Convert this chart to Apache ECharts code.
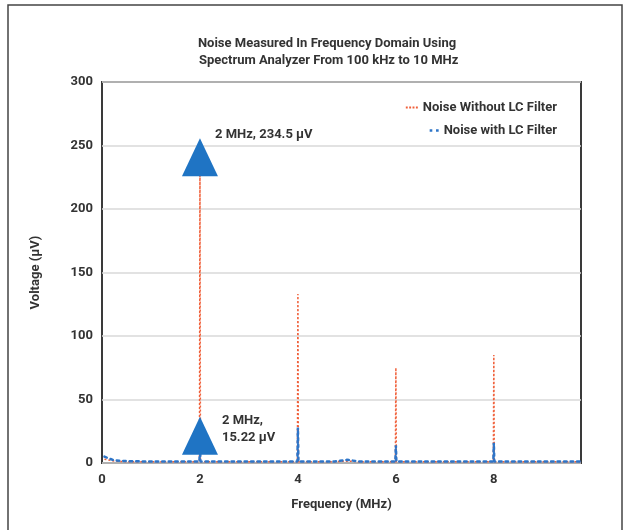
<!DOCTYPE html>
<html>
<head>
<meta charset="utf-8">
<script src="https://cdn.jsdelivr.net/npm/echarts@6/dist/echarts.min.js"></script>
<style>
  html, body { margin: 0; padding: 0; background: #fff; }
  #chart { width: 629px; height: 530px; }
</style>
</head>
<body>
<div id="chart"></div>
<script>
// spectrum samples, [frequency MHz, voltage uV]
var noiseNoFilter = [
    [0.05, 3], [0.25, 1.5], [0.5, 1], [0.75, 1], [1.0, 1], [1.25, 1], [1.5, 1], [1.75, 1],
    [1.99, 1], [2.0, 234.5], [2.01, 1], [2.25, 1], [2.5, 1], [2.75, 1], [3.0, 1], [3.25, 1],
    [3.5, 1], [3.75, 1], [3.99, 1], [4.0, 133], [4.01, 1], [4.25, 1], [4.5, 1], [4.75, 1],
    [5.0, 1.5], [5.25, 1], [5.5, 1], [5.75, 1], [5.99, 1], [6.0, 75], [6.01, 1], [6.25, 1],
    [6.5, 1], [6.75, 1], [7.0, 1], [7.25, 1], [7.5, 1], [7.75, 1], [7.99, 1], [8.0, 85],
    [8.01, 1], [8.25, 1], [8.5, 1], [8.75, 1], [9.0, 1], [9.25, 1], [9.5, 1], [9.78, 1]
];
var noiseLcFilter = [
    [0.05, 5], [0.25, 2], [0.5, 1.5], [0.75, 1.3], [1.0, 1.2], [1.25, 1.2], [1.5, 1.2], [1.75, 1.2],
    [1.99, 1.2], [2.0, 15.22], [2.01, 1.2], [2.25, 1.2], [2.5, 1.2], [2.75, 1.2], [3.0, 1.2], [3.25, 1.2],
    [3.5, 1.2], [3.75, 1.2], [3.99, 1.2], [4.0, 28], [4.01, 1.2], [4.25, 1.2], [4.5, 1.2], [4.75, 1.2],
    [5.0, 2.5], [5.25, 1.2], [5.5, 1.2], [5.75, 1.2], [5.99, 1.2], [6.0, 14], [6.01, 1.2], [6.25, 1.2],
    [6.5, 1.2], [6.75, 1.2], [7.0, 1.2], [7.25, 1.2], [7.5, 1.2], [7.75, 1.2], [7.99, 1.2], [8.0, 16],
    [8.01, 1.2], [8.25, 1.2], [8.5, 1.2], [8.75, 1.2], [9.0, 1.2], [9.25, 1.2], [9.5, 1.2], [9.78, 1.2]
];
var peakNoFilter = [2, 234.5];
var peakLcFilter = [2, 15.22];
var seriesNames = ["Noise Without LC Filter", "Noise with LC Filter"];

var textColor = "#333";
var fontFam = "Roboto, 'DejaVu Sans', sans-serif";
var triColor = "#1f74c4";
var orange = "#f0603a";
var blue = "#2e75c8";

// dotted legend icons
var orangeDots = "path://M0,0h2v2h-2zM3.5,0h2v2h-2zM7,0h2v2h-2zM10.5,0h2v2h-2z";
var blueDots = "path://M0,0h2.5v2.5h-2.5zM6,0h2.5v2.5h-2.5z";

var chart = echarts.init(document.getElementById("chart"));

var legendText = { fontSize: 13, fontWeight: "bold", color: textColor, fontFamily: fontFam };

var option = {
    animation: false,
    textStyle: { fontFamily: fontFam },
    title: {
        text: "Noise Measured In Frequency Domain Using\n Spectrum Analyzer From 100 kHz to 10 MHz",
        left: 322, top: 30, textAlign: "center",
        textStyle: { fontSize: 13, fontWeight: "bold", color: textColor, lineHeight: 17, fontFamily: fontFam }
    },
    legend: [
        {
            data: [{ name: seriesNames[0], icon: orangeDots, itemStyle: { color: orange } }],
            right: 67, top: 96, itemWidth: 12, itemHeight: 2, itemGap: 4,
            textStyle: legendText
        },
        {
            data: [{ name: seriesNames[1], icon: blueDots, itemStyle: { color: blue } }],
            right: 67, top: 119, itemWidth: 9, itemHeight: 3, itemGap: 4,
            textStyle: legendText
        }
    ],
    grid: {
        left: 102, right: 48, top: 82, bottom: 67,
        show: true, borderColor: "#3a3a3a", borderWidth: 2, backgroundColor: "transparent"
    },
    xAxis: {
        type: "value", min: 0, max: 9.78, interval: 2,
        name: "Frequency (MHz)", nameLocation: "middle", nameGap: 35,
        nameTextStyle: { fontSize: 13, fontWeight: "bold", color: textColor },
        axisLine: { show: false }, axisTick: { show: false },
        splitLine: { show: false },
        axisLabel: { fontSize: 13, fontWeight: "bold", color: textColor, margin: 10, showMaxLabel: false }
    },
    yAxis: {
        type: "value", min: 0, max: 300, interval: 50,
        name: "Voltage (µV)", nameLocation: "middle", nameGap: 60, nameRotate: 90,
        nameTextStyle: { fontSize: 13, fontWeight: "bold", color: textColor },
        axisLine: { show: false }, axisTick: { show: false },
        splitLine: { lineStyle: { color: "#d9d9d9", width: 1.5 } },
        axisLabel: { fontSize: 13, fontWeight: "bold", color: textColor, margin: 9 }
    },
    graphic: [{
        type: "rect", shape: { x: 8, y: 5, width: 614, height: 540 },
        style: { fill: "none", stroke: "#444", lineWidth: 1.5 }, silent: true
    }],
    series: [
        {
            name: seriesNames[0], type: "line", data: noiseNoFilter,
            symbol: "none", color: orange,
            lineStyle: { type: [2, 2], width: 1.5, color: orange },
            markPoint: {
                symbol: "triangle", symbolSize: [36, 38], symbolOffset: [0, -8],
                itemStyle: { color: triColor },
                label: {
                    show: true, position: [33, -10], align: "left", verticalAlign: "top",
                    fontSize: 13, fontWeight: "bold", color: textColor,
                    formatter: "2 MHz, 234.5 µV"
                },
                data: [{ coord: peakNoFilter }]
            },
            z: 2
        },
        {
            name: seriesNames[1], type: "line", data: noiseLcFilter,
            symbol: "none", color: blue,
            lineStyle: { type: [2.5, 4], width: 2.5, color: blue, cap: "round" },
            markPoint: {
                symbol: "triangle", symbolSize: [36, 38], symbolOffset: [0, -8],
                itemStyle: { color: triColor },
                label: {
                    show: true, position: [40, -4], align: "left", verticalAlign: "top",
                    fontSize: 13, fontWeight: "bold", color: textColor, lineHeight: 17,
                    formatter: "2 MHz,\n15.22 µV"
                },
                data: [{ coord: peakLcFilter }]
            },
            z: 3
        }
    ]
};

chart.setOption(option);
</script>
</body>
</html>
